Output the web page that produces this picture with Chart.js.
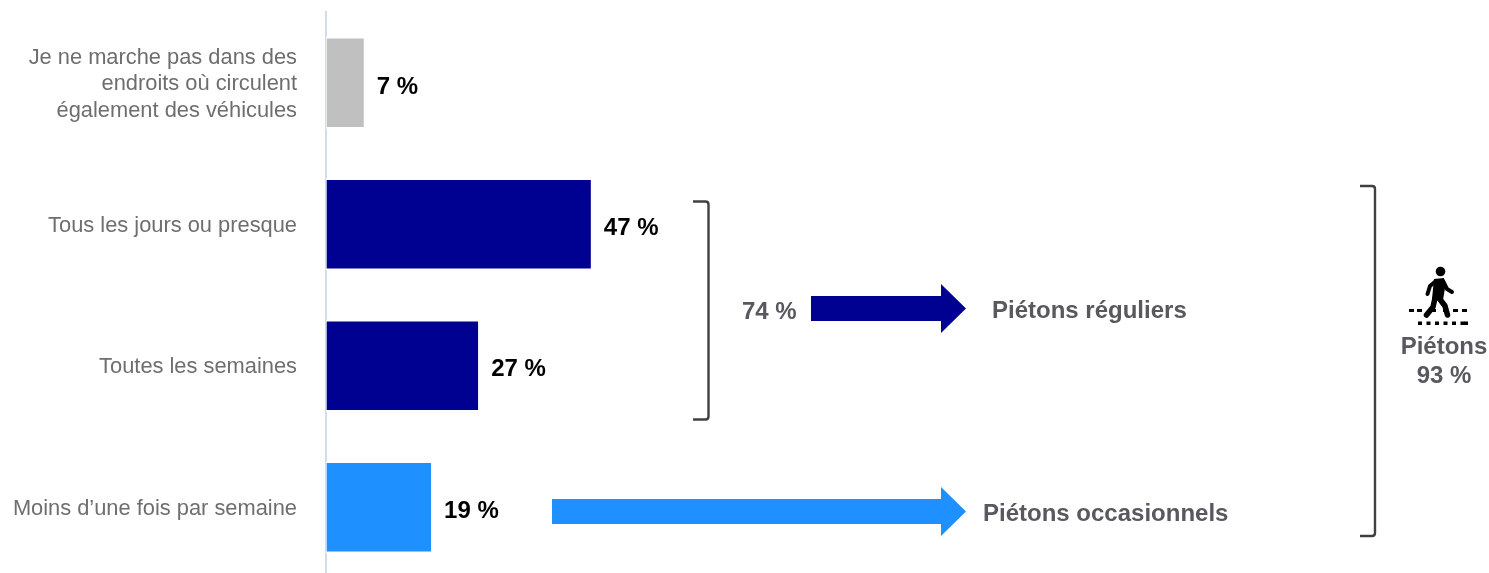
<!DOCTYPE html>
<html lang="fr">
<head>
<meta charset="utf-8">
<title>Piétons</title>
<script src="https://cdn.jsdelivr.net/npm/chart.js@4"></script>
<style>
  html, body { margin: 0; padding: 0; background: #fff; overflow: hidden; }
  canvas { display: block; }
</style>
</head>
<body>
<canvas id="chart" width="1489" height="578"></canvas>
<script>
const categories = [
  ["Je ne marche pas dans des", "endroits où circulent", "également des véhicules"],
  "Tous les jours ou presque",
  "Toutes les semaines",
  "Moins d’une fois par semaine",
];
const values = [6.7, 47, 27, 18.65];
const valueLabels = ["7 %", "47 %", "27 %", "19 %"];
const barColors = ["#c0c0c0", "#000091", "#000091", "#1e90ff"];

const FONT = '"Liberation Sans", Arial, sans-serif';
const GREY_TEXT = "#58595f";

function bracket(ctx, x0, x1, y0, y1) {
  ctx.beginPath();
  ctx.moveTo(x0, y0);
  ctx.lineTo(x1 - 3, y0);
  ctx.quadraticCurveTo(x1, y0, x1, y0 + 3);
  ctx.lineTo(x1, y1 - 3);
  ctx.quadraticCurveTo(x1, y1, x1 - 3, y1);
  ctx.lineTo(x0, y1);
  ctx.strokeStyle = "#404040";
  ctx.lineWidth = 2.4;
  ctx.stroke();
}

function arrow(ctx, x0, neck, tip, y, color) {
  ctx.beginPath();
  ctx.moveTo(x0, y - 12.5);
  ctx.lineTo(neck, y - 12.5);
  ctx.lineTo(neck, y - 24.5);
  ctx.lineTo(tip, y);
  ctx.lineTo(neck, y + 24.5);
  ctx.lineTo(neck, y + 12.5);
  ctx.lineTo(x0, y + 12.5);
  ctx.closePath();
  ctx.fillStyle = color;
  ctx.fill();
}

function label(ctx, text, x, y, size, color, align) {
  ctx.font = "bold " + size + "px " + FONT;
  ctx.fillStyle = color;
  ctx.textAlign = align || "left";
  ctx.textBaseline = "middle";
  ctx.fillText(text, x, y);
}

function walker(ctx) {
  ctx.fillStyle = "#000";
  ctx.strokeStyle = "#000";
  ctx.lineCap = "round";
  ctx.lineJoin = "round";
  ctx.beginPath();
  ctx.arc(1440.5, 271.5, 4.8, 0, Math.PI * 2);
  ctx.fill();
  // torso
  ctx.beginPath();
  ctx.moveTo(1434, 279);
  ctx.lineTo(1444, 278);
  ctx.lineTo(1445, 288);
  ctx.lineTo(1443, 300);
  ctx.lineTo(1432, 299);
  ctx.closePath();
  ctx.fill();
  // arms
  ctx.lineWidth = 4;
  ctx.beginPath();
  ctx.moveTo(1436, 281);
  ctx.lineTo(1430, 286);
  ctx.lineTo(1427.5, 294);
  ctx.moveTo(1443, 281);
  ctx.lineTo(1447, 289);
  ctx.lineTo(1452, 292);
  ctx.stroke();
  // legs
  ctx.lineWidth = 5.5;
  ctx.beginPath();
  ctx.moveTo(1435, 298);
  ctx.lineTo(1433, 307);
  ctx.lineTo(1426.5, 315);
  ctx.moveTo(1439, 298);
  ctx.lineTo(1445, 306);
  ctx.lineTo(1447.5, 315);
  ctx.stroke();
  ctx.lineCap = "butt";
  // crossing
  [1409, 1417, 1431, 1443, 1453, 1462].forEach(function (x) { ctx.fillRect(x, 309, 5, 3); });
  [1418, 1426.5, 1435, 1443.5, 1452, 1460.5, 1464].forEach(function (x) { ctx.fillRect(x, 321.5, 4, 3.5); });
}

const overlays = {
  id: "overlays",
  afterDatasetsDraw(chart) {
    const ctx = chart.ctx;
    ctx.save();
    chart.getDatasetMeta(0).data.forEach(function (bar, i) {
      label(ctx, valueLabels[i], bar.x + 13, bar.y + (i === 0 ? 5 : 4), 24, "#000");
    });
    bracket(ctx, 693, 708.5, 201.5, 419.5);
    bracket(ctx, 1360, 1375, 186, 536);
    label(ctx, "74 %", 742, 312, 24, GREY_TEXT);
    arrow(ctx, 811, 941, 966, 308.5, "#000091");
    arrow(ctx, 552, 941, 966, 511.5, "#1e90ff");
    label(ctx, "Piétons réguliers", 992, 311, 24, GREY_TEXT);
    label(ctx, "Piétons occasionnels", 983, 514, 24, GREY_TEXT);
    label(ctx, "Piétons", 1444, 347, 24, GREY_TEXT, "center");
    label(ctx, "93 %", 1444, 376, 24, GREY_TEXT, "center");
    walker(ctx);
    ctx.restore();
  },
};

new Chart(document.getElementById("chart"), {
  type: "bar",
  data: {
    labels: categories,
    datasets: [{
      data: values,
      base: -0.18,
      backgroundColor: barColors,
      borderColor: "#fff",
      borderWidth: { top: 2, bottom: 2, left: 2, right: 0 },
      borderSkipped: false,
      barThickness: 92,
    }],
  },
  options: {
    indexAxis: "y",
    responsive: false,
    animation: false,
    layout: { padding: { top: 12 } },
    plugins: { legend: { display: false }, tooltip: { enabled: false } },
    scales: {
      x: { display: false, min: 0, max: 206.4 },
      y: {
        afterFit(scale) {
          scale.width = 326;
          // let the bands fill the full height, tall first label included
          scale.paddingTop = 0;
          scale.paddingBottom = 0;
        },
        grid: { display: false, drawTicks: false },
        border: { display: true, color: "#d0dbec", width: 2 },
        ticks: {
          padding: 29,
          labelOffset: 1.5,
          color: "#6e6e6e",
          font: { family: FONT, size: 21.85, lineHeight: 1.2 },
        },
      },
    },
  },
  plugins: [overlays],
});
</script>
</body>
</html>
